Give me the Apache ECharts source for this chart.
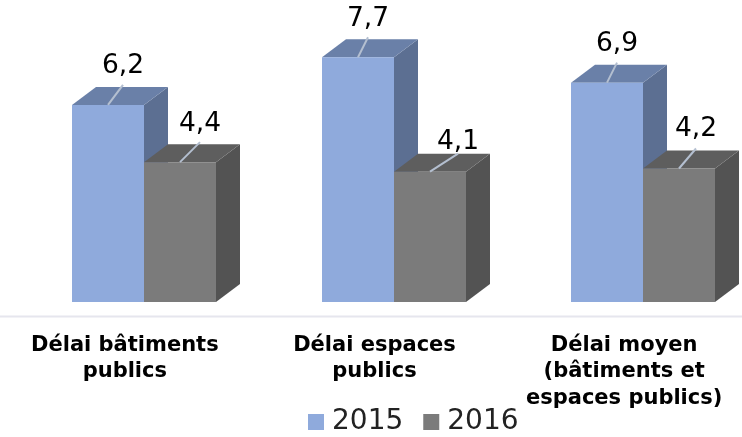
<!DOCTYPE html>
<html>
<head>
<meta charset="utf-8">
<style>html,body{margin:0;padding:0;background:#fff}#canvas{width:742px;height:437px}</style>
<script src="https://cdn.jsdelivr.net/npm/echarts@6/dist/echarts.min.js"></script>
</head>
<body>
<div id="canvas"></div>
<script>
let categories = ['Délai bâtiments\npublics', 'Délai espaces\npublics', 'Délai moyen\n(bâtiments et\nespaces publics)'];
let values2015 = [6.2, 7.7, 6.9];
let values2016 = [4.4, 4.1, 4.2];

let font = '"DejaVu Sans", Verdana, sans-serif';
let depthX = 24, depthY = 18;

// label placement per bar: leader dx, leader dy, label dy
let shift2015 = [[15, -20, -39], [10, -20, -38], [10, -20, -39]];
let shift2016 = [[20, -20, -38], [28, -18, -30], [17, -20, -39]];

// 3d box, drawn from the axis scales
let box3d = function (colors, side, shift) {
    return function (params, api) {
        let i = api.value(0);
        let top = api.coord([i, api.value(1)]);
        let base = api.coord([i, 0]);
        let w = Math.round(api.size([1, 0])[0] * 0.2875);
        let x0 = Math.round(top[0]) + (side < 0 ? -w : 0);
        let x1 = x0 + w;
        let cx = (x0 + x1) / 2;
        let s = shift[i];
        let label = String(api.value(1)).replace('.', ',');
        return {
            type: 'group',
            children: [
                { type: 'polygon', shape: { points: [[x1, top[1]], [x1 + depthX, top[1] - depthY], [x1 + depthX, base[1] - depthY], [x1, base[1]]] }, style: { fill: colors[2] } },
                { type: 'polygon', shape: { points: [[x0, top[1]], [x0 + depthX, top[1] - depthY], [x1 + depthX, top[1] - depthY], [x1, top[1]]] }, style: { fill: colors[1] } },
                { type: 'rect', shape: { x: x0, y: top[1], width: w, height: base[1] - top[1] }, style: { fill: colors[0] } },
                { type: 'line', shape: { x1: cx, y1: top[1], x2: cx + s[0], y2: top[1] + s[1] }, style: { stroke: '#b4bfd0', lineWidth: 2 } },
                { type: 'text', style: { x: cx + s[0], y: top[1] + s[2], text: label, fill: '#000', font: '26.5px ' + font, align: 'center', verticalAlign: 'middle' } }
            ]
        };
    };
};

let chart = echarts.init(document.getElementById('canvas'));
let option = {
    animation: false,
    grid: { left: 19, top: 0, right: -26, height: 302, outerBoundsMode: 'none' },
    legend: {
        left: 303, top: 403,
        itemWidth: 16, itemHeight: 16, itemGap: 20,
        icon: 'rect',
        textStyle: { fontFamily: font, fontSize: 28, color: '#222', padding: [0, 0, 0, 3] },
        data: ['2015', '2016']
    },
    xAxis: {
        type: 'category',
        data: categories,
        axisLine: { show: false },
        axisTick: { show: false },
        axisLabel: { interval: 0, margin: 30, fontFamily: font, fontWeight: 'bold', fontSize: 21, lineHeight: 26.5, color: '#000', align: 'center', padding: [0, 38, 0, 0] }
    },
    yAxis: { type: 'value', min: 0, max: 9.5, show: false, splitLine: { show: false } },
    series: [
        { name: '2015', type: 'custom', itemStyle: { color: '#8faadc' }, encode: { x: 0, y: 1 }, data: values2015.map((v, i) => [i, v]), renderItem: box3d(['#8faadc', '#6a80a8', '#5c6f92'], -1, shift2015), clip: false },
        { name: '2016', type: 'custom', itemStyle: { color: '#7b7b7b' }, encode: { x: 0, y: 1 }, data: values2016.map((v, i) => [i, v]), renderItem: box3d(['#7b7b7b', '#5e5e5e', '#535353'], 1, shift2016), clip: false }
    ],
    graphic: [
        { type: 'line', silent: true, shape: { x1: 0, y1: 316.5, x2: 742, y2: 316.5 }, style: { stroke: '#e6e6ee', lineWidth: 2 } }
    ]
};
chart.setOption(option);
</script>
</body>
</html>
